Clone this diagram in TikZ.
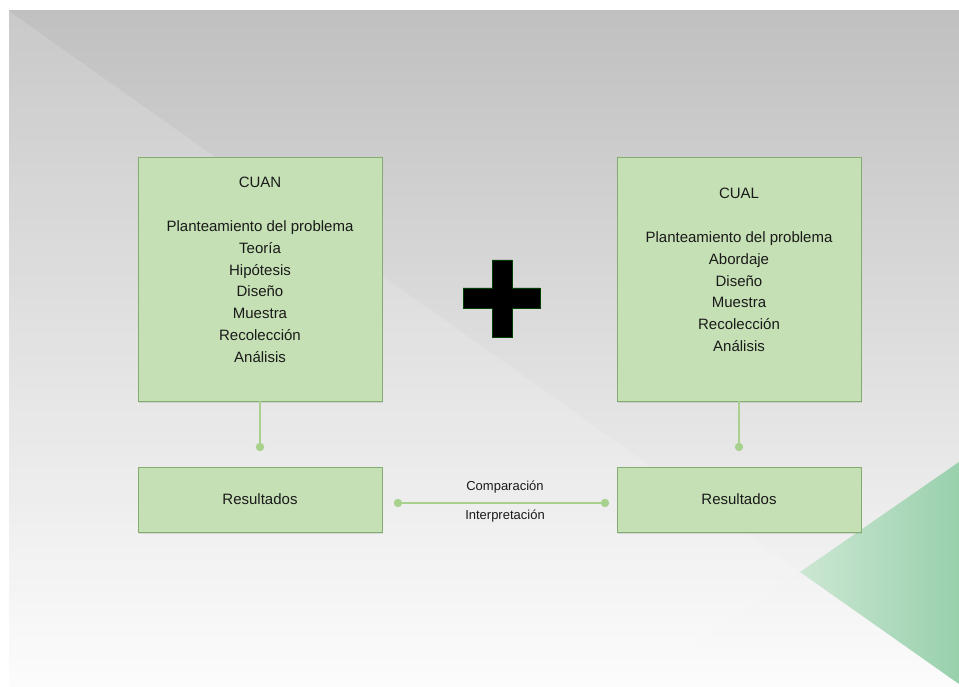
\documentclass[tikz,border=0pt]{standalone}
\usepackage{fontspec}
\setmainfont{Liberation Sans}
\usetikzlibrary{shadows}
\definecolor{boxfill}{HTML}{C5E0B4}
\definecolor{boxline}{HTML}{82AD6E}
\definecolor{conn}{HTML}{A9D18E}
\definecolor{bgtop}{HTML}{C0C0C0}
\definecolor{bgmid}{HTML}{D6D6D6}
\definecolor{bgbot}{HTML}{FCFCFC}
\definecolor{grL}{HTML}{CCE7D3}
\definecolor{grR}{HTML}{98D0AC}
\definecolor{txt}{HTML}{1A1A1A}
\tikzset{
  box/.style={draw=boxline, fill=boxfill, line width=0.9pt, inner sep=0pt,
    minimum width=244pt, drop shadow={shadow xshift=0.6pt, shadow yshift=-1.6pt, opacity=0.18, fill=black!60}},
  bigbox/.style={box, minimum height=244pt},
  resbox/.style={box, minimum height=65pt},
  boxtext/.style={text=txt, align=center, inner sep=0pt, font=\fontsize{15}{21.8}\selectfont},
  lbl/.style={text=txt, inner sep=0pt, font=\fontsize{13}{15}\selectfont},
  conline/.style={draw=conn, line width=2.8pt},
  dot/.style={fill=conn},
}
\begin{document}
\begin{tikzpicture}[x=1pt,y=-1pt]
\useasboundingbox (0,0) rectangle (959,687);
\fill[white] (0,0) rectangle (959,687);
% background
\shade[top color=bgtop, middle color=bgmid, bottom color=bgbot] (9,11) rectangle (959,687);
\fill[white, opacity=0.15] (9,11) -- (800,572) -- (633,687) -- (9,687) -- cycle;
\shade[left color=grL, right color=grR] (800,572) -- (959,462) -- (959,684) -- cycle;
% boxes
\node[bigbox] (cuan) at (260,279) {};
\node[bigbox] (cual) at (739,279) {};
\node[resbox] (res1) at (260,499.5) {};
\node[resbox] (res2) at (739,499.5) {};
\node[boxtext] (cuantext) at (260,270) {CUAN\\[21.8pt]Planteamiento del problema\\Teoría\\Hipótesis\\Diseño\\Muestra\\Recolección\\Análisis};
\node[boxtext] (cualtext) at (739,270) {CUAL\\[21.8pt]Planteamiento del problema\\Abordaje\\Diseño\\Muestra\\Recolección\\Análisis};
\node[boxtext] (res1text) at (res1) {Resultados};
\node[boxtext] (res2text) at (res2) {Resultados};
% connectors
\coordinate (d1) at (260,447);
\coordinate (d2) at (739,447);
\coordinate (hl) at (398,503);
\coordinate (hr) at (605,503);
\draw[conline] (cuan.south) -- (d1);
\draw[conline] (cual.south) -- (d2);
\draw[conline] (hl) -- (hr);
\fill[dot] (d1) circle (4.2pt);
\fill[dot] (d2) circle (4.2pt);
\fill[dot] (hl) circle (4.2pt);
\fill[dot] (hr) circle (4.2pt);
\node[lbl] (comp) at (505,487) {Comparación};
\node[lbl] (interp) at (505,516) {Interpretación};
% plus sign
\fill[black, draw=black!75!green, line width=0.6pt]
  (492,260) -- (512,260) -- (512,288) -- (540,288) -- (540,308) -- (512,308)
  -- (512,337) -- (492,337) -- (492,308) -- (463,308) -- (463,288) -- (492,288) -- cycle;
\end{tikzpicture}
\end{document}
